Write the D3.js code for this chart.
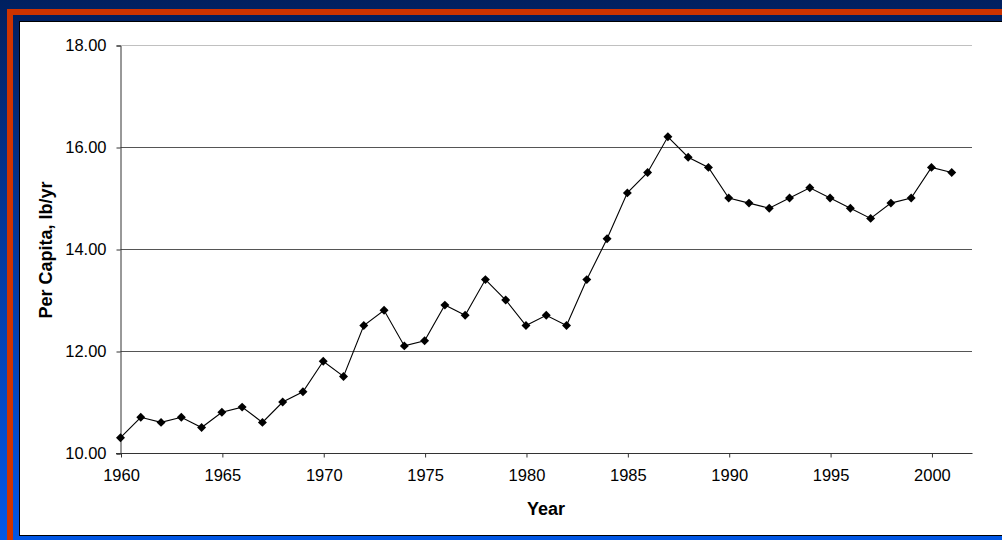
<!DOCTYPE html>
<html>
<head>
<meta charset="utf-8">
<script src="https://cdn.jsdelivr.net/npm/d3@7"></script>
<style>
  html, body { margin: 0; padding: 0; background: #002060; }
  svg { display: block; }
  text { font-family: "Liberation Sans", Arial, sans-serif; fill: #000; }
</style>
</head>
<body>
<svg id="chart" width="1002" height="540"></svg>
<script>
// Per-capita consumption by year
const years = [1960, 1961, 1962, 1963, 1964, 1965, 1966, 1967, 1968, 1969,
               1970, 1971, 1972, 1973, 1974, 1975, 1976, 1977, 1978, 1979,
               1980, 1981, 1982, 1983, 1984, 1985, 1986, 1987, 1988, 1989,
               1990, 1991, 1992, 1993, 1994, 1995, 1996, 1997, 1998, 1999,
               2000, 2001];
const perCapita = [10.3, 10.7, 10.6, 10.7, 10.5, 10.8, 10.9, 10.6, 11.0, 11.2,
                   11.8, 11.5, 12.5, 12.8, 12.1, 12.2, 12.9, 12.7, 13.4, 13.0,
                   12.5, 12.7, 12.5, 13.4, 14.2, 15.1, 15.5, 16.2, 15.8, 15.6,
                   15.0, 14.9, 14.8, 15.0, 15.2, 15.0, 14.8, 14.6, 14.9, 15.0,
                   15.6, 15.5];
const xTicks = [1960, 1965, 1970, 1975, 1980, 1985, 1990, 1995, 2000];
const yTicks = [10, 12, 14, 16, 18];
const xTitle = "Year";
const yTitle = "Per Capita, lb/yr";

const svg = d3.select("#chart");
const W = 1002, H = 540;

// slide background: vertical blue gradient with a red frame
const defs = svg.append("defs");
const grad = defs.append("linearGradient").attr("id", "bg")
  .attr("x1", 0).attr("y1", 0).attr("x2", 0).attr("y2", 1);
grad.append("stop").attr("offset", "0%").attr("stop-color", "#002060");
grad.append("stop").attr("offset", "100%").attr("stop-color", "#0058e8");
svg.append("rect").attr("width", W).attr("height", H).attr("fill", "url(#bg)");
svg.append("rect").attr("x", 7).attr("y", 9).attr("width", W).attr("height", H)
  .attr("fill", "#cc3300");
svg.append("rect").attr("x", 13).attr("y", 15).attr("width", W).attr("height", H)
  .attr("fill", "url(#bg)");

// white chart panel
svg.append("rect").attr("x", 19.5).attr("y", 21.5).attr("width", W).attr("height", 514)
  .attr("fill", "#fff").attr("stroke", "#000").attr("stroke-width", 1);

const plot = { left: 120.5, right: 972, top: 45, bottom: 453 };

const x = d3.scaleLinear().domain([1960, 2002]).range([plot.left, plot.right]);
const y = d3.scaleLinear().domain([10, 18]).range([plot.bottom, plot.top]);

// horizontal gridlines
svg.append("g")
  .selectAll("line")
  .data(yTicks.filter(v => v !== 10))
  .join("line")
  .attr("x1", plot.left).attr("x2", plot.right)
  .attr("y1", d => Math.round(y(d)) + 0.5).attr("y2", d => Math.round(y(d)) + 0.5)
  .attr("stroke", d => d === 18 ? "#c0c0c0" : "#555")
  .attr("stroke-width", 1);

// y axis
const yAxis = d3.axisLeft(y).tickValues(yTicks).tickSize(4).tickPadding(10)
  .tickFormat(d3.format(".2f"));
const gy = svg.append("g").attr("transform", `translate(${plot.left},0.5)`).call(yAxis);
gy.select(".domain").attr("stroke", "#333");
gy.selectAll(".tick line").attr("stroke", "#333");
gy.selectAll(".tick text").attr("font-size", 16.5).attr("font-family", "Liberation Sans, Arial, sans-serif")
  .attr("fill", "#111");

// x axis
const xAxis = d3.axisBottom(x).tickValues(xTicks).tickSize(4).tickPadding(12)
  .tickFormat(d3.format("d"));
const gx = svg.append("g").attr("transform", `translate(0.5,${plot.bottom + 0.5})`).call(xAxis);
gx.select(".domain").attr("stroke", "#333").attr("d", `M${plot.left - 5},0H${plot.right}`);
gx.selectAll(".tick line").attr("stroke", "#333");
gx.selectAll(".tick text").attr("font-size", 16.5).attr("font-family", "Liberation Sans, Arial, sans-serif")
  .attr("fill", "#111");

// axis titles
svg.append("text")
  .attr("x", 546).attr("y", 515)
  .attr("text-anchor", "middle")
  .attr("font-size", 18).attr("font-weight", "bold")
  .text(xTitle);
svg.append("text")
  .attr("transform", "translate(52,250) rotate(-90)")
  .attr("text-anchor", "middle")
  .attr("font-size", 18).attr("font-weight", "bold")
  .text(yTitle);

// series line
const pts = years.map((yr, i) => [yr, perCapita[i]]);
const line = d3.line().x(d => x(d[0])).y(d => y(d[1]));
svg.append("path")
  .datum(pts)
  .attr("d", line)
  .attr("fill", "none")
  .attr("stroke", "#000")
  .attr("stroke-width", 1.1);

// diamond markers
const diamond = d3.symbol().type(d3.symbolSquare).size(40);
svg.append("g")
  .selectAll("path")
  .data(pts)
  .join("path")
  .attr("d", diamond)
  .attr("transform", d => `translate(${x(d[0])},${y(d[1])}) rotate(45)`)
  .attr("fill", "#000");
</script>
</body>
</html>
